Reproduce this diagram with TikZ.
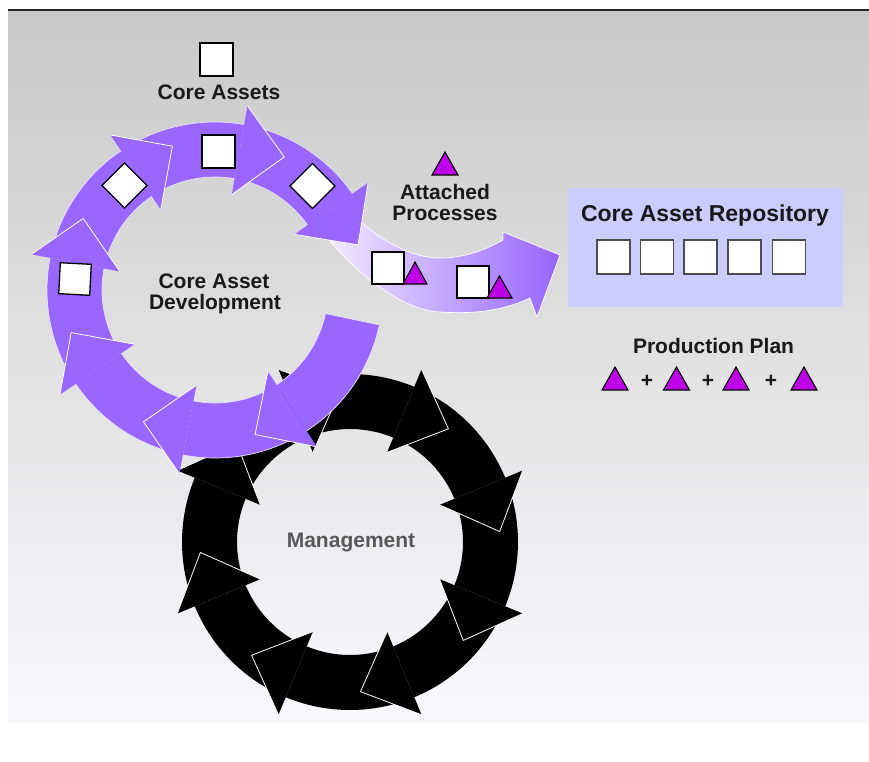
\documentclass[tikz,border=0pt]{standalone}
\usepackage{fontspec}
\setmainfont{Liberation Sans}
\usetikzlibrary{calc}
\definecolor{ringpurple}{RGB}{153,102,255}
\definecolor{bandlight}{RGB}{246,241,255}
\definecolor{banddark}{RGB}{150,100,255}
\definecolor{trimag}{RGB}{190,0,230}
\definecolor{repofill}{RGB}{204,204,255}
\definecolor{bgtop}{RGB}{200,200,200}
\definecolor{bgmid}{RGB}{226,226,226}
\definecolor{bgbot}{RGB}{249,248,253}
\newcommand\rIn{113}
\newcommand\rOut{168}
\newcommand\rHi{97}
\newcommand\rHo{187}
\newcommand\rTip{150}
\newcommand\RingBody[3]{\fill[#1] (#2:\rIn) -- (#2:\rOut) arc[start angle=#2,end angle=#3,radius=\rOut] -- (#3:\rIn) arc[start angle=#3,end angle=#2,radius=\rIn] -- cycle;}
\newcommand\RingEdge[3]{\draw[#1] (#3:\rOut) arc[start angle=#3,end angle=#2,radius=\rOut] -- (#2:\rIn) arc[start angle=#2,end angle=#3,radius=\rIn];}
\newcommand\RingHead[4]{\fill[#1] (#3:\rHo) -- (#4:\rTip) -- (#3:\rHi) -- cycle;
  \draw[#2] (#3:\rHo) -- (#4:\rTip) -- (#3:\rHi);}
\tikzset{
  lbl/.style={font=\fontsize{21}{24}\selectfont\bfseries, text=black!90, inner sep=0pt, anchor=base},
  sqbox/.style={fill=white, draw=black, line width=1.3pt},
  repobox/.style={fill=white, draw=black!70, line width=1.5pt},
  tri/.style={fill=trimag, draw=black, line width=1.1pt, line join=miter},
  headedge/.style={white, line width=0.8pt},
  bodyedge/.style={white!80!ringpurple, line width=0.7pt}
}
\begin{document}
\begin{tikzpicture}[x=1pt,y=1pt]
\useasboundingbox (0,0) rectangle (869,-762);
% background
\shade[top color=bgtop, bottom color=bgbot, middle color=bgmid] (8,-11) rectangle (869,-722);
\draw[line width=2pt, black!85] (8,-10) -- (869,-10);
% black management ring
\begin{scope}[shift={(350,-542)}]
  \foreach \b in {157.5,112.5,67.5,22.5,-22.5,-67.5,-112.5,-157.5}{
    \pgfmathsetmacro\s{\b+43}
    \RingBody{black}{\s}{\b}
  }
  \foreach \b in {157.5,112.5,67.5,22.5,-22.5,-67.5,-112.5,-157.5}{
    \pgfmathsetmacro\t{\b-18.5}
    \RingHead{black}{headedge}{\b}{\t}
  }
\end{scope}
% attached processes band
\shade[left color=bandlight, right color=banddark, draw=white, line width=0.7pt]
  (340,-200) .. controls (360,-225) and (400,-258) .. (440,-258)
  .. controls (465,-258) and (485,-250) .. (503,-240)
  -- (503,-232) -- (560,-255) -- (537,-317) -- (530,-298)
  .. controls (500,-312) and (470,-314) .. (440,-312)
  .. controls (400,-310) and (350,-270) .. (315,-222) -- cycle;
% purple core asset development ring
\begin{scope}[shift={(215,-290)}]
  \foreach \s/\e in {258/214,212/169,167/124,122/80,78/35,-12/-57,-59/-101}{
    \RingBody{ringpurple}{\s}{\e}
    \RingEdge{bodyedge}{\s}{\e}
  }
  \foreach \b in {214,169,124,80,35,-57,-101}{
    \pgfmathsetmacro\t{\b-17.5}
    \RingHead{ringpurple}{headedge}{\b}{\t}
  }
\end{scope}
% squares and diamonds on ring
\draw[sqbox] (200,-43) rectangle (233,-76);
\draw[sqbox] (202,-135) rectangle (235,-168);
\draw[sqbox, rotate around={-3:(75,-279)}] (59.5,-263.5) rectangle (90.5,-294.5);
\draw[sqbox] (102,-185.5) -- (124.5,-163) -- (147,-185.5) -- (124.5,-208) -- cycle;
\draw[sqbox] (290,-186) -- (312.5,-163.5) -- (335,-186) -- (312.5,-208.5) -- cycle;
% band items
\draw[sqbox] (372,-252) rectangle (404,-284);
\draw[tri] (403,-284) -- (415,-262) -- (427,-284) -- cycle;
\draw[sqbox] (457,-266) rectangle (489,-298);
\draw[tri] (487,-298) -- (499.5,-276) -- (512,-298) -- cycle;
\draw[tri] (432,-175) -- (445,-152) -- (458,-175) -- cycle;
% repository
\fill[repofill] (568,-188) rectangle (843,-307);
\foreach \x in {597,640.5,684,728,772.5}{
  \draw[repobox] (\x,-240) rectangle ++(33,-34);
}
% production plan triangles
\foreach \x in {602,663.5,723,791}{
  \draw[tri] (\x,-390) -- ++(13,23) -- ++(13,-23) -- cycle;
}
% labels
\node[lbl] (ca) at (219,-100) {Core Assets};
\node[lbl] (cad1) at (214,-288) {Core Asset};
\node[lbl] (cad2) at (215,-309) {Development};
\node[lbl] (ap1) at (445,-200) {Attached};
\node[lbl] (ap2) at (445,-220) {Processes};
\node[lbl, font=\fontsize{23}{26}\selectfont\bfseries] (car) at (705,-221) {Core Asset Repository};
\node[lbl] (pp) at (713.5,-353) {Production Plan};
\node[lbl, text=black!65] (mg) at (351,-547) {Management};
\node[lbl, anchor=center] (p1) at (647,-381) {+};
\node[lbl, anchor=center] (p2) at (708,-381) {+};
\node[lbl, anchor=center] (p3) at (771,-381) {+};
\end{tikzpicture}
\end{document}
